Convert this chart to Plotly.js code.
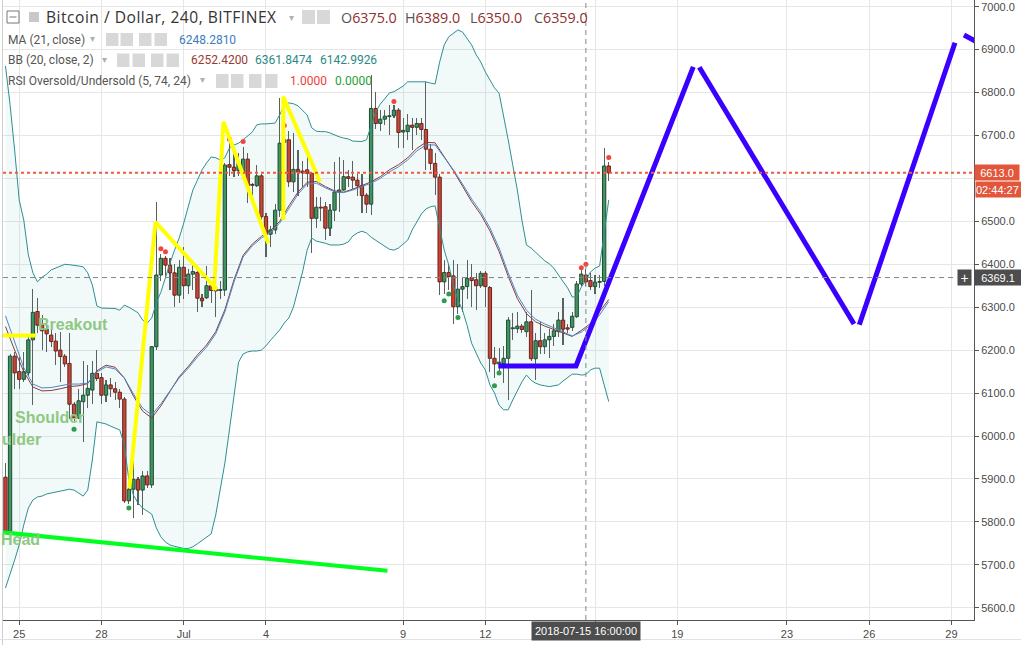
<!DOCTYPE html>
<html><head><meta charset="utf-8">
<script src="https://cdn.plot.ly/plotly-3.0.1.min.js"></script>
<style>html,body{margin:0;padding:0;background:#fff;overflow:hidden}#chart{width:1021px;height:649px}</style>
</head><body><div id="chart"></div>
<script>
// ---------------- DATA ----------------
// 4h candles, first candle 2018-06-24 12:00 (UTC)
const candleStartUTC = Date.UTC(2018, 5, 24, 12);
const candleStepHours = 4;

const open = [5904,5778,6186,6150,6132,6147,6224,6290,6261,6249, 6235,6221,6200,6186,6169,6074,6042,6080,6095,6107, 6146,6136,6095,6119,6110,6102,6086,5849,5876,5899, 5874,5907,5886,6208,6375,6414,6398,6380,6328,6393, 6350,6377,6381,6321,6322,6350,6342,6339,6340,6632, 6626,6618,6612,6645,6585,6583,6606,6511,6470,6480, 6526,6684,6690,6592,6621,6617,6620,6612,6507,6533, 6534,6484,6526,6568,6573,6604,6603,6596,6583,6561, 6540,6763,6728,6738,6744,6746,6759,6708,6709,6724, 6719,6728,6714,6668,6635,6603,6359,6381,6373,6301, 6342,6348,6369,6364,6350,6379,6346,6181,6168,6168, 6181,6250,6250,6256,6243,6266,6180,6222,6208,6224, 6232,6243,6270,6252,6253,6278,6354,6375,6362,6348, 6358,6360,6629];
const high = [5937,6190,6196,6185,6196,6230,6342,6321,6282,6262, 6255,6240,6243,6190,6240,6080,6110,6175,6165,6175, 6200,6146,6130,6135,6125,6110,6090,5880,5960,5905, 5918,5918,6210,6546,6425,6420,6415,6400,6410,6440, 6390,6400,6390,6330,6395,6360,6360,6360,6635,6682, 6660,6660,6674,6660,6590,6631,6610,6520,6490,6540, 6787,6712,6710,6705,6666,6640,6660,6615,6557,6556, 6545,6540,6639,6650,6643,6620,6640,6610,6610,6565, 6841,6802,6760,6760,6770,6770,6765,6740,6750,6740, 6740,6740,6825,6680,6660,6610,6410,6400,6410,6400, 6370,6410,6400,6380,6385,6385,6350,6208,6204,6210, 6278,6286,6290,6260,6290,6340,6240,6265,6240,6250, 6260,6290,6321,6260,6290,6360,6387,6389,6380,6375, 6375,6672,6639];
const low = [5772,5772,6109,6109,6125,6140,6072,6240,6200,6195, 6208,6165,6126,6160,6040,6035,6040,5987,6065,6075, 6128,6075,6080,6090,6085,6065,5845,5842,5810,5840, 5815,5880,5880,6200,6360,6370,6340,6300,6310,6320, 6330,6340,6290,6300,6318,6310,6278,6320,6325,6605, 6604,6605,6605,6542,6560,6580,6500,6418,6440,6470, 6510,6600,6580,6569,6560,6580,6580,6426,6484,6500, 6457,6465,6500,6522,6570,6580,6575,6560,6519,6520, 6515,6715,6710,6725,6700,6740,6670,6670,6690,6666, 6700,6690,6620,6620,6561,6328,6330,6340,6262,6285, 6290,6320,6300,6293,6345,6301,6150,6134,6150,6123, 6084,6224,6240,6240,6230,6175,6130,6190,6190,6181, 6210,6230,6212,6240,6245,6275,6350,6350,6340,6331, 6345,6350,6595];
const close = [5778,6186,6147,6132,6150,6224,6288,6258,6245,6238, 6220,6198,6185,6168,6074,6042,6082,6095,6111,6146, 6134,6095,6119,6110,6102,6086,5849,5876,5899,5874, 5907,5886,6208,6375,6414,6398,6380,6328,6393,6350, 6377,6383,6321,6315,6350,6339,6338,6341,6631,6626, 6618,6635,6645,6583,6584,6606,6511,6470,6480,6526, 6682,6690,6592,6621,6615,6613,6612,6507,6533,6531, 6484,6526,6568,6573,6604,6600,6596,6583,6560,6540, 6763,6728,6738,6745,6746,6759,6707,6712,6724,6719, 6728,6714,6668,6635,6603,6359,6381,6371,6301,6342, 6348,6367,6362,6350,6379,6348,6181,6168,6172,6181, 6270,6252,6256,6248,6266,6180,6222,6208,6224,6232, 6245,6270,6249,6249,6279,6354,6377,6359,6348,6358, 6360,6629,6613];

// Bollinger Bands (20, close, 2) upper / lower, one value per candle
const bbUpper = [6862,6772,6666,6550,6503,6422,6380,6359,6370,6377, 6387,6391,6396,6400,6399,6398,6396,6394,6380,6352, 6303,6298,6298,6298,6297,6293,6305,6300,6293,6287, 6270,6263,6275,6310,6335,6370,6403,6433,6461,6496, 6538,6573,6596,6620,6636,6650,6648,6643,6648,6671, 6678,6682,6690,6699,6708,6725,6727,6727,6728,6729, 6748,6771,6776,6774,6769,6759,6748,6718,6710,6709, 6709,6706,6701,6697,6694,6692,6687,6686,6686,6690, 6725,6755,6773,6787,6799,6802,6808,6815,6825,6825, 6825,6825,6825,6822,6820,6871,6911,6930,6939,6946, 6941,6927,6911,6888,6871,6848,6829,6811,6799,6748, 6690,6631,6573,6503,6445,6438,6428,6417,6408,6401, 6391,6375,6359,6345,6324,6324,6347,6362,6382,6391, 6396,6470,6550];
const bbLower = [5646,5676,5711,5746,5793,5832,5851,5858,5860,5865, 5867,5870,5872,5874,5876,5874,5867,5860,5874,5944, 6033,6030,6028,6023,6019,6014,5979,5897,5862,5844, 5832,5825,5818,5786,5765,5753,5746,5743,5741,5738, 5738,5742,5749,5756,5763,5772,5816,5874,5937,6014, 6096,6172,6191,6196,6198,6198,6200,6210,6223,6235, 6247,6263,6275,6300,6340,6382,6433,6461,6454,6452, 6449,6445,6445,6445,6447,6452,6466,6473,6477,6473, 6463,6456,6449,6442,6435,6433,6438,6447,6456,6480, 6498,6517,6529,6534,6536,6480,6433,6398,6352,6317, 6293,6258,6216,6193,6170,6154,6119,6100,6072,6061, 6061,6084,6107,6126,6142,6130,6123,6119,6117,6115, 6117,6119,6128,6135,6144,6144,6142,6143,6154,6158, 6158,6119,6080];
// MA(21) and BB basis, read every second candle (candles 1,3,5,...,133)
const maLine = [6280,6217,6159,6121,6112,6113,6117,6121,6121,6123, 6149,6161,6156,6135,6098,6065,6049,6075,6105,6135, 6158,6184,6207,6238,6289,6359,6417,6443,6461,6475, 6496,6531,6563,6587,6589,6578,6569,6567,6573,6581, 6589,6600,6615,6627,6643,6664,6678,6678,6650,6620, 6587,6552,6522,6485,6438,6380,6328,6293,6272,6261, 6252,6243,6233,6242,6258,6282,6313];
const bbBasis = [6255,6200,6150,6114,6105,6106,6110,6115,6117,6122, 6152,6165,6160,6135,6093,6058,6042,6070,6104,6138, 6162,6189,6212,6243,6294,6364,6421,6447,6465,6479, 6500,6536,6568,6591,6593,6581,6571,6568,6575,6584, 6592,6604,6620,6632,6648,6670,6684,6683,6652,6618, 6582,6546,6516,6478,6430,6372,6320,6285,6266,6256, 6248,6240,6232,6246,6262,6290,6318];

// RSI oversold / undersold signal dots (candle number, price)
const sellDotCandle = [35,36,50,53,62,86,127,128,133];
const sellDotPrice  = [6436,6429,6691,6686,6723,6779,6392,6400,6649];
const buyDotCandle  = [16,28,97,98,100,108,109];
const buyDotPrice   = [6016,5832,6315,6331,6276,6117,6147];

// hand-drawn lines
const greenLineDate = ['2018-06-24 08:00','2018-07-08 10:19'];
const greenLinePrice = [5776,5686];
const yellowLineDate = ['2018-06-24 06:00','2018-06-25 14:42',null,
  '2018-06-29 00:22','2018-06-29 23:18','2018-07-02 05:08',null,
  '2018-07-02 02:30','2018-07-02 10:49','2018-07-04 02:02',null,
  '2018-07-04 15:10','2018-07-04 15:11','2018-07-05 23:17'];
const yellowLinePrice = [6234,6234,null, 5878,6498,6341,null, 6340,6732,6449,null, 6503,6790,6592];
const blueLineDate = ['2018-07-12 11:21','2018-07-15 07:20','2018-07-19 14:00',null,
  '2018-07-19 19:16','2018-07-25 10:40',null,
  '2018-07-25 15:19','2018-07-29 03:04',null,
  '2018-07-29 10:57','2018-07-30 09:50'];
const blueLinePrice = [6163,6163,6860,null, 6859,6261,null, 6259,6916,null, 6934,6901];

// chart labels (the second "Shoulder" only shows its visible part at the left edge)
const patternLabels = ['Breakout','Shoulder','ulder','Head'];
const patternLabelDate = ['2018-06-26 22:55','2018-06-26 02:05','2018-06-25 21:06','2018-06-25 01:08'];
const patternLabelPrice = [6258.6,6042,5990.7,5760];

const xTickDates = ['2018-06-25','2018-06-28','2018-07-01','2018-07-04','2018-07-09','2018-07-12','2018-07-16','2018-07-19','2018-07-23','2018-07-26','2018-07-29'];
const xTickText  = ['25','28','Jul','4','9','12','','19','23','26','29'];   // "16" sits under the cursor time label
const yTicks = [5600,5700,5800,5900,6000,6100,6200,6300,6400,6500,6600,6700,6800,6900,7000];
const yTickText = ['5600.0','5700.0','5800.0','5900.0','6000.0','6100.0','6200.0','6300.0','6400.0','6500.0','','6700.0','6800.0','6900.0','7000.0']; // 6600 hidden by last-price tag

const lastPrice = 6613.0, countdown = '02:44:27';
const cursorPrice = 6369.1, cursorTime = '2018-07-15 16:00', cursorLabel = '2018-07-15 16:00:00';
const headerOHLC = {O:'6375.0', H:'6389.0', L:'6350.0', C:'6359.0'};
const maValue = '6248.2810';
const bbValues = ['6252.4200','6361.8474','6142.9926'];
const rsiValues = ['1.0000','0.0000'];

// ---------------- BUILD ----------------
const H4 = candleStepHours*3600000;
const t = open.map((_, i) => candleStartUTC + i*H4);
const tOdd = maLine.map((_, i) => t[2*i]);
const up = close.map((c, i) => c >= open[i]);
const GREEN = '#45935f', GREEN_D = '#1f4a2e', RED = '#cc4434', RED_D = '#6e1e16';

const traces = [];
traces.push({type:'scatter', mode:'lines', x:t, y:bbLower, line:{color:'#2e8f92', width:1}, hoverinfo:'skip'});
traces.push({type:'scatter', mode:'lines', x:t, y:bbUpper, line:{color:'#2e8f92', width:1}, fill:'tonexty', fillcolor:'rgba(38,150,150,0.06)', hoverinfo:'skip'});
traces.push({type:'bar', x:t, base:low, y:high.map((h,i)=>h-low[i]), width:H4/4.57*1.1, marker:{color:'#5e5e5e', line:{width:0}}, hoverinfo:'skip'});
traces.push({type:'bar', x:t, base:open.map((o,i)=>Math.min(o,close[i])), y:open.map((o,i)=>Math.max(Math.abs(close[i]-o),2)), width:H4*0.72,
  marker:{color:up.map(u=>u?GREEN:RED), line:{color:up.map(u=>u?GREEN_D:RED_D), width:1}}, hoverinfo:'skip'});
traces.push({type:'scatter', mode:'lines', x:tOdd, y:bbBasis, line:{color:'#8c3b3b', width:1}, hoverinfo:'skip'});
traces.push({type:'scatter', mode:'lines', x:tOdd, y:maLine, line:{color:'#4a88c6', width:1}, hoverinfo:'skip'});
traces.push({type:'scatter', mode:'markers', x:sellDotCandle.map(k=>t[k-1]), y:sellDotPrice, marker:{color:'#f2453d', size:5}, hoverinfo:'skip'});
traces.push({type:'scatter', mode:'markers', x:buyDotCandle.map(k=>t[k-1]), y:buyDotPrice, marker:{color:'#2e9c4c', size:5}, hoverinfo:'skip'});
traces.push({type:'scatter', mode:'lines', x:greenLineDate, y:greenLinePrice, line:{color:'#00ff1e', width:4}, hoverinfo:'skip'});
traces.push({type:'scatter', mode:'lines', x:yellowLineDate, y:yellowLinePrice, connectgaps:false, line:{color:'#ffff00', width:4}, hoverinfo:'skip'});
traces.push({type:'scatter', mode:'lines', x:blueLineDate, y:blueLinePrice, connectgaps:false, line:{color:'#3a00ff', width:5}, hoverinfo:'skip'});

// pixel helpers for layout decoration (plot area spans x 3..974, y 0..620)
const PX = px => (px-3)/971, PY = py => (620-py)/620;
const shapes = [], ann = [];
function rectPx(x0,y0,x1,y1,fill,line){ shapes.push({type:'rect', xref:'paper', yref:'paper', x0:PX(x0), x1:PX(x1), y0:PY(y1), y1:PY(y0), fillcolor:fill, line:line||{width:0}, layer:'above'}); }
function textPx(x,y,txt,opts){ ann.push(Object.assign({xref:'paper', yref:'paper', x:PX(x), y:PY(y), text:txt, showarrow:false, xanchor:'left', yanchor:'middle', font:{family:'Roboto, Arial, sans-serif', size:12, color:'#555'}}, opts||{})); }

shapes.push({type:'line', xref:'paper', yref:'y', x0:0, x1:1, y0:lastPrice, y1:lastPrice, line:{color:'#ef5a3c', width:2, dash:'3px,3px'}});
shapes.push({type:'line', xref:'paper', yref:'y', x0:0, x1:PX(957), y0:cursorPrice, y1:cursorPrice, line:{color:'#858585', width:1, dash:'5px,4px'}});
shapes.push({type:'line', xref:'x', yref:'paper', x0:cursorTime, x1:cursorTime, y0:0, y1:1, line:{color:'#858585', width:1, dash:'5px,4px'}});
shapes.push({type:'line', xref:'paper', yref:'paper', x0:PX(2.5), x1:PX(2.5), y0:PY(645), y1:1, line:{color:'#cfcfcf', width:1}});
shapes.push({type:'line', xref:'paper', yref:'paper', x0:PX(0), x1:PX(1021), y0:PY(639.5), y1:PY(639.5), line:{color:'#e2e2e2', width:1}});

// header line 1
rectPx(7,11,19,23,'rgba(0,0,0,0)',{color:'#777',width:1});
shapes.push({type:'line', xref:'paper', yref:'paper', x0:PX(9.5), x1:PX(16.5), y0:PY(17), y1:PY(17), line:{color:'#777',width:1}});
rectPx(29,12,39,22,'#c8c8c8');
textPx(44,17.5,'<span style="letter-spacing:0.5px">Bitcoin / Dollar, 240, BITFINEX</span>',{font:{family:'Open Sans, sans-serif', size:15.6, color:'#333'}});
textPx(287,17,'▾',{font:{family:'DejaVu Sans', size:10, color:'#b0b0b0'}});
rectPx(302,10,315,24,'#d8d8d8'); rectPx(317,10,330,24,'#d8d8d8');
const vred = v => `<span style="color:#8e2f2f">${v}</span>`;
const hdrFont = {family:'Open Sans, sans-serif', size:14.3, color:'#555'};
textPx(339,17.5,'O'+vred(headerOHLC.O),{font:hdrFont});
textPx(403,17.5,'H'+vred(headerOHLC.H),{font:hdrFont});
textPx(468,17.5,'L'+vred(headerOHLC.L),{font:hdrFont});
textPx(532,17.5,'C'+vred(headerOHLC.C),{font:hdrFont});
// header lines 2-4
function icons(xs, y0, y1){ xs.forEach(x=>rectPx(x,y0,x+12.5,y1,'#d8d8d8')); }
textPx(6,39.5,'MA (21, close)');
textPx(88,38.5,'▾',{font:{family:'DejaVu Sans', size:10, color:'#b0b0b0'}});
icons([106,120.5,139,154.5],33,46);
textPx(177,39.5,maValue,{font:{family:'Roboto, Arial', size:12, color:'#3b7cc0'}});
textPx(6,60,'BB (20, close, 2)');
textPx(100,59,'▾',{font:{family:'DejaVu Sans', size:10, color:'#b0b0b0'}});
icons([117,132.5,151,166.5],53.5,67);
textPx(189,60,bbValues[0],{font:{family:'Roboto, Arial', size:12, color:'#9a3a33'}});
textPx(253,60,bbValues[1],{font:{family:'Roboto, Arial', size:12, color:'#2a8a86'}});
textPx(318,60,bbValues[2],{font:{family:'Roboto, Arial', size:12, color:'#2a8a86'}});
textPx(6,80.5,'RSI Oversold/Undersold (5, 74, 24)');
textPx(198,79.5,'▾',{font:{family:'DejaVu Sans', size:10, color:'#b0b0b0'}});
icons([216,231,249,265],74,88);
textPx(288,80.5,rsiValues[0],{font:{family:'Roboto, Arial', size:12, color:'#f23b3b'}});
textPx(333,80.5,rsiValues[1],{font:{family:'Roboto, Arial', size:12, color:'#25a035'}});

// pattern labels
patternLabels.forEach((s,i)=>ann.push({xref:'x', yref:'y', x:patternLabelDate[i], y:patternLabelPrice[i], text:s, showarrow:false,
  xanchor: i===2?'right':'center', yanchor:'middle', font:{family:'Liberation Sans, Arial', size:16, color:'#8fc883', weight:'bold'}}));

// price axis labels
ann.push({xref:'paper', yref:'y', x:1, y:lastPrice, xanchor:'left', yanchor:'middle', text:lastPrice.toFixed(1), showarrow:false,
  bgcolor:'#e2563c', width:44, height:15, borderpad:0, font:{family:'Liberation Sans, Arial', size:11, color:'#fff'}});
ann.push({xref:'paper', yref:'y', x:1, y:lastPrice, yshift:-17, xanchor:'left', yanchor:'middle', text:countdown, showarrow:false, align:'left',
  bgcolor:'#e2563c', width:46, height:15, borderpad:0, xshift:1, font:{family:'Liberation Sans, Arial', size:11, color:'#fff'}});
ann.push({xref:'paper', yref:'y', x:1, y:cursorPrice, xanchor:'left', yanchor:'middle', text:cursorPrice.toFixed(1), showarrow:false,
  bgcolor:'#4d4d4d', width:46, height:15, borderpad:0, font:{family:'Liberation Sans, Arial', size:11, color:'#fff'}});
ann.push({xref:'paper', yref:'y', x:1, xshift:-2, y:cursorPrice, xanchor:'right', yanchor:'middle', text:'+', showarrow:false,
  bgcolor:'#4d4d4d', width:13, height:15, borderpad:0, font:{family:'Liberation Sans, Arial', size:14, color:'#fff'}});
ann.push({xref:'x', yref:'paper', x:cursorTime, y:0, yshift:-1, xanchor:'center', yanchor:'top', text:cursorLabel, showarrow:false,
  bgcolor:'#4d4d4d', width:108, height:18, borderpad:0, font:{family:'Liberation Sans, Arial', size:11, color:'#fff'}});

const layout = {
  width:1021, height:649, margin:{l:3, r:47, t:0, b:29, pad:0},
  paper_bgcolor:'#fff', plot_bgcolor:'#fff', showlegend:false, barmode:'overlay', bargap:0,
  xaxis:{type:'date', range:['2018-06-24 09:49','2018-07-29 19:42'], tickmode:'array', tickvals:xTickDates, ticktext:xTickText,
    showgrid:true, gridcolor:'#e6e6e6', gridwidth:1, zeroline:false, showline:true, linecolor:'#555', linewidth:1,
    ticks:'outside', ticklen:4, tickcolor:'#555', tickfont:{family:'Liberation Sans, Arial', size:11, color:'#4a4a4a'}, fixedrange:true},
  yaxis:{side:'right', range:[5571.4, 7015.6], tickmode:'array', tickvals:yTicks, ticktext:yTickText,
    showgrid:true, gridcolor:'#e6e6e6', gridwidth:1, zeroline:false, showline:true, linecolor:'#555', linewidth:1,
    ticks:'outside', ticklen:4, tickcolor:'#555', tickfont:{family:'Liberation Sans, Arial', size:11, color:'#4a4a4a'}, fixedrange:true},
  shapes:shapes, annotations:ann
};
Plotly.newPlot('chart', traces, layout, {displayModeBar:false, staticPlot:true});
</script>
</body></html>
